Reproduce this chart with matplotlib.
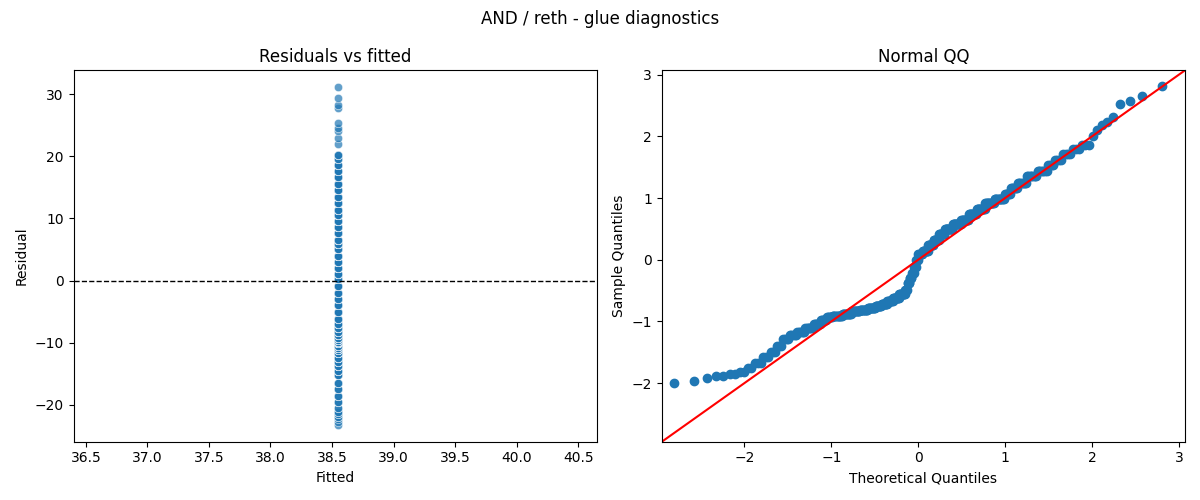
import numpy as np
import matplotlib.pyplot as plt
import seaborn as sns
from statistics import NormalDist

# residual levels and how many observations sit at each one
levels = [-23.2, -22.8, -22.3, -21.9, -21.5, -21.1,
          -20.5, -19.5, -18.5, -17.5, -16.5, -15.2,
          -14.5, -13.8, -13.1, -12.4, -11.7, -11.2,
          -10.9, -10.5, -10.1, -9.8, -9.5,
          -9.2, -8.7, -8.2, -7.7, -7.0,
          -6.2, -5.0, -4.0, -3.0, -2.0, -0.8,
          0.3, 1.0, 2.0, 3.0, 4.0, 5.0, 5.9,
          6.6, 7.6, 8.6, 9.6, 10.5,
          11.4, 12.4, 13.4, 14.6, 15.6,
          16.6, 17.6, 18.6, 19.6, 20.2,
          22.0, 23.0, 24.0, 24.5, 25.3, 27.8, 28.3, 29.3, 31.1]
counts = [1, 1, 1, 2, 2, 2,
          2, 3, 3, 3, 3, 4,
          5, 6, 7, 7, 6, 6,
          12, 12, 12, 12, 12,
          10, 10, 10, 11, 11,
          4, 4, 4, 4, 4, 4,
          8, 10, 10, 10, 10, 14, 14,
          12, 12, 12, 12, 12,
          7, 7, 8, 8, 7,
          4, 4, 4, 3, 3,
          1, 1, 1, 1, 1, 1, 1, 1, 1]
fitted_value = 38.55

resid = np.repeat(levels, counts)
fitted = np.full(len(resid), fitted_value)

# standardized sample quantiles vs normal theoretical quantiles
sample = np.sort((resid - resid.mean()) / resid.std())
n = len(sample)
theo = np.array([NormalDist().inv_cdf(i / (n + 1)) for i in range(1, n + 1)])

fig, axes = plt.subplots(1, 2, figsize=(12, 5))

ax = axes[0]
sns.scatterplot(x=fitted, y=resid, ax=ax, alpha=0.7)
ax.axhline(0, color="black", linestyle="--", linewidth=1)
ax.set_xlim(36.4, 40.65)
ax.set_xticks(np.arange(36.5, 40.6, 0.5))
ax.set_title("Residuals vs fitted")
ax.set_xlabel("Fitted")
ax.set_ylabel("Residual")

ax = axes[1]
ax.plot(theo, sample, "o", color="#1f77b4", markersize=6)
ax.set_xlim(-2.95, 3.07)
ax.set_ylim(-2.95, 3.07)
ax.axline((0, 0), slope=1, color="red")
ax.set_title("Normal QQ")
ax.set_xlabel("Theoretical Quantiles")
ax.set_ylabel("Sample Quantiles")

fig.suptitle("AND / reth - glue diagnostics")
plt.tight_layout()
plt.savefig("out.png", dpi=100)
